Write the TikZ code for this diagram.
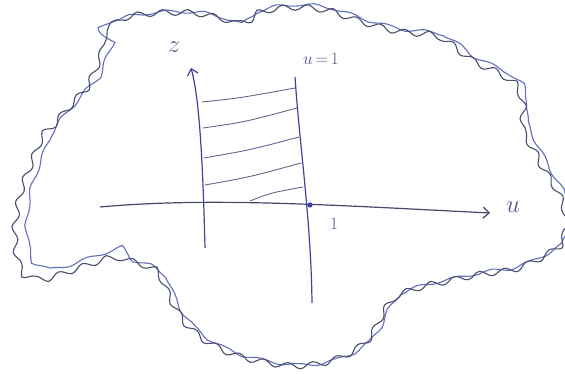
\documentclass[tikz,border=0pt]{standalone}
\usetikzlibrary{arrows.meta,decorations.pathmorphing}
\definecolor{blobblue}{RGB}{100,110,190}
\definecolor{blobgray}{RGB}{75,78,110}
\definecolor{axisgray}{RGB}{70,72,105}
\definecolor{vertblue}{RGB}{62,68,160}
\definecolor{hatchcol}{RGB}{100,102,145}
\definecolor{inkcol}{RGB}{80,85,140}
\tikzset{
  blobA/.style={blobblue,line width=1.1pt,decorate,decoration={snake,amplitude=1.6pt,segment length=38pt}},
  blobB/.style={blobgray,line width=1.1pt,decorate,decoration={snake,amplitude=-3pt,segment length=25pt}},
  axisline/.style={axisgray,line width=1.2pt},
  vertline/.style={vertblue,line width=1.2pt},
  hatchline/.style={hatchcol,line width=0.9pt},
  barb/.style={-{Straight Barb[length=6pt,width=11pt,line width=1.2pt]}},
  ink/.style={inkcol,inner sep=0pt}
}
\begin{document}
\begin{tikzpicture}[x=1pt,y=-1pt]
\useasboundingbox (0,0) rectangle (565,374);
\fill[white] (0,0) rectangle (565,374);
% blob outline
\def\blobpts{(100,32) (118,20) (150,15) (187,15) (213,20) (235,26) (253,14) (285,9) (320,12) (353,23) (390,33) (427,37) (443,45) (467,63) (493,75) (510,87) (517,107) (517,133) (527,150) (537,170) (548,187) (555,202) (559,218) (556,242) (538,256) (507,270) (473,275) (440,282) (413,288) (387,298) (377,312) (363,338) (340,355) (313,364) (280,366) (233,357) (200,342) (177,322) (163,298) (150,272) (117,260) (107,255) (67,268) (37,277) (18,271) (11,252) (9,228) (13,198) (18,180) (27,157) (37,133) (50,120) (67,100) (83,83) (90,67) (98,47)}
\draw[blobA] plot[smooth cycle,tension=0.55] coordinates {\blobpts};
\draw[blobB] plot[smooth cycle,tension=0.55] coordinates {\blobpts};
% coordinates
\coordinate (uL) at (100,207);
\coordinate (uR) at (490,213);
\coordinate (zB) at (205,248);
\coordinate (zT) at (191,68);
\coordinate (vT) at (295,77);
\coordinate (vB) at (312,303);
\coordinate (one) at (310,205);
% hatch lines
\coordinate (h1a) at (202,102); \coordinate (h1b) at (295,88);
\coordinate (h2a) at (203,128); \coordinate (h2b) at (297,108);
\coordinate (h3a) at (204,158); \coordinate (h3b) at (299,137);
\coordinate (h4a) at (205,185); \coordinate (h4b) at (301,163);
\coordinate (h5a) at (250,201); \coordinate (h5b) at (303,187);
\draw[hatchline] (h1a) .. controls (240,98) .. (h1b);
\draw[hatchline] (h2a) .. controls (245,122) .. (h2b);
\draw[hatchline] (h3a) .. controls (250,150) .. (h3b);
\draw[hatchline] (h4a) .. controls (250,177) .. (h4b);
\draw[hatchline] (h5a) .. controls (270,193) .. (h5b);
% axes
\draw[axisline,barb] (uL) .. controls (210,197) and (330,205) .. (uR);
\draw[axisline,vertblue,barb] (zB) .. controls (203,170) and (200,100) .. (zT);
\draw[vertline] (vT) .. controls (300,150) and (311,220) .. (vB);
\fill[vertblue] (one) circle (2.6pt);
% labels
\node[ink,font=\fontsize{26}{26}\selectfont] (zlab) at (174,47) {$z$};
\node[ink,font=\fontsize{19}{19}\selectfont] (u1lab) at (321,59) {$u\,{=}\,1$};
\node[ink,font=\fontsize{26}{26}\selectfont] (ulab) at (513,207) {$u$};
\node[ink,font=\fontsize{17}{17}\selectfont] (onelab) at (334,224) {$1$};
\end{tikzpicture}
\end{document}
